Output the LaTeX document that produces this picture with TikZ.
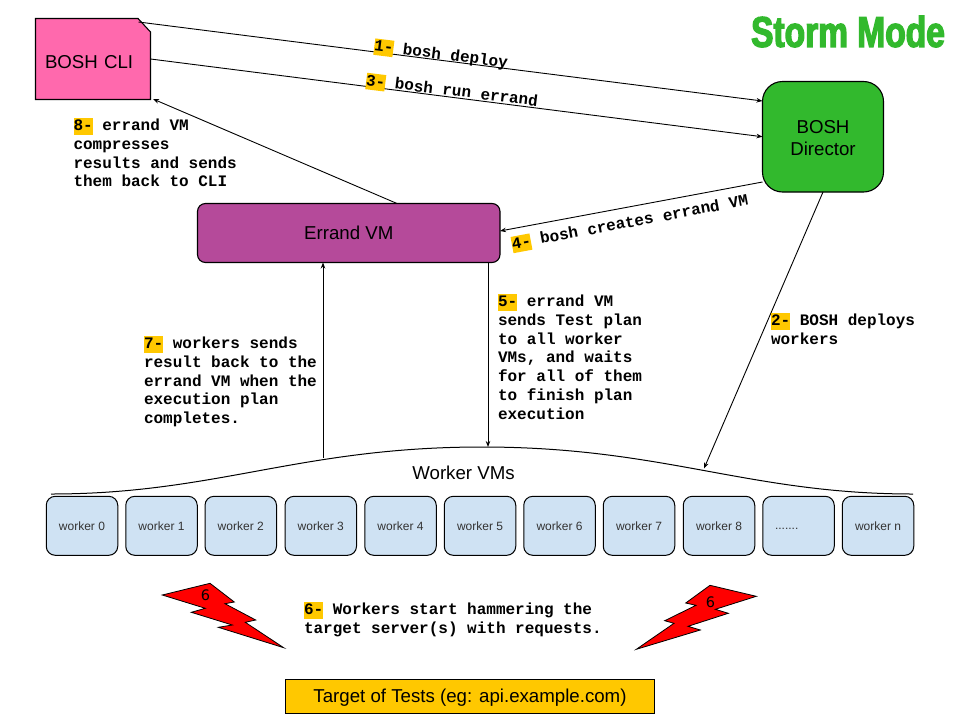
\documentclass[tikz,border=0pt]{standalone}
\usepackage{fontspec}
\setmainfont{Liberation Sans}
\newfontfamily\monob{Liberation Mono}[BoldFont=* Bold]
\newfontfamily\titlef{Liberation Sans Bold}[FakeStretch=0.78,FakeBold=3]
\newfontfamily\sixf{DejaVu Sans}
\usetikzlibrary{arrows.meta,backgrounds}
\definecolor{hlc}{HTML}{FFC800}
\definecolor{dirgreen}{HTML}{32B92D}
\definecolor{clipink}{HTML}{FF69AD}
\definecolor{errpurple}{HTML}{B54A9A}
\definecolor{workerblue}{HTML}{CFE2F3}
\definecolor{workertext}{HTML}{333333}
\newcommand{\hlbox}[1]{{\setlength{\fboxsep}{0pt}\colorbox{hlc}{\vrule height 12.5pt depth 4pt width 0pt #1}}}
\tikzset{
  every node/.style={inner sep=0pt,outer sep=0pt},
  big/.style={font=\fontsize{18.67}{22}\selectfont},
  box/.style={draw=black,line width=1.1pt,big,align=center},
  workerbox/.style={draw=black,line width=1pt,fill=workerblue,rounded corners=9pt,minimum width=71.5pt,minimum height=59pt,font=\fontsize{12}{14}\selectfont,text=workertext},
  arr/.style={draw=black,line width=0.9pt,-{Stealth[length=6pt,width=4.5pt]}},
  lbl/.style={font=\fontsize{16}{18.8}\selectfont\monob\bfseries,align=left,anchor=north west},
  tag/.style={font=\fontsize{16}{18.8}\selectfont\monob\bfseries},
  bolt/.style={draw=black,line width=0.8pt,fill=red,line join=miter},
  six/.style={font=\fontsize{14.5}{16}\selectfont\sixf}
}
\begin{document}
\begin{tikzpicture}[x=1pt,y=-1pt]
\useasboundingbox (0,0) rectangle (960,720);
% title
\node[text=dirgreen,font=\fontsize{43}{48}\selectfont\titlef] (title) at (848,31.5) {Storm Mode};
% main boxes
\node[big,minimum width=115pt,minimum height=81pt,text width=96pt,align=left] (cli) at (93,59) {\raisebox{-2.5pt}[13.4pt][0.2pt]{BOSH CLI}};
\begin{scope}[on background layer]
\draw[draw=black,line width=1.1pt,fill=clipink] (cli.north west) -- ([xshift=-12.5pt]cli.north east) -- ([yshift=-13.5pt]cli.north east) -- (cli.south east) -- (cli.south west) -- cycle;
\end{scope}
\node[box,fill=dirgreen,rounded corners=20pt,minimum width=121pt,minimum height=110.5pt] (dir) at (823,136.75) {\raisebox{-1pt}[13.4pt][0.2pt]{BOSH}\\\raisebox{-1pt}[13.4pt][0.2pt]{Director}};
\node[box,fill=errpurple,rounded corners=8pt,minimum width=302.5pt,minimum height=59pt] (err) at (348.75,233) {Errand VM};
% workers
\node[workerbox] (w0) at (82,525.8) {worker 0};
\node[workerbox] (w1) at (161.5,525.8) {worker 1};
\node[workerbox] (w2) at (240.75,525.8) {worker 2};
\node[workerbox] (w3) at (320.75,525.8) {worker 3};
\node[workerbox] (w4) at (400.5,525.8) {worker 4};
\node[workerbox] (w5) at (480,525.8) {worker 5};
\node[workerbox] (w6) at (559.5,525.8) {worker 6};
\node[workerbox] (w7) at (639,525.8) {worker 7};
\node[workerbox] (w8) at (719,525.8) {worker 8};
\node[workerbox,text width=47pt,align=left] (wd) at (798.5,525.8) {\vphantom{0}.......};
\node[workerbox] (wn) at (878,525.8) {worker n};
% brace
\coordinate (braceL) at (323,458);
\coordinate (braceM) at (488,447);
\coordinate (braceR) at (704,468.5);
\draw[line width=1pt] (51,494) .. controls (216,494) and (300,447) .. (482,447) .. controls (664,447) and (748,494) .. (913,494);
\node[big] (wvm) at (463.5,473) {Worker VMs};
% connectors
\draw[arr] ([shift={(-12pt,-3.5pt)}]cli.north east) -- ([yshift=-19.5pt]dir.north west);
\draw[arr] (cli.east) -- (dir.west);
\draw[arr] ([xshift=48.25pt]err.north) -- ([shift={(2.5pt,0.5pt)}]cli.south east);
\draw[arr] ([yshift=10pt]dir.south west) -- ([yshift=2pt]err.east);
\draw[arr] ([xshift=139.25pt]err.south) -- (braceM);
\draw[arr] (braceL) -- ([xshift=-25.75pt]err.south);
\draw[arr] (dir.south) -- (braceR);
% connector labels
\node[tag,rotate=-7.2] (l1) at (441,55) {\hlbox{1-} bosh deploy};
\node[tag,rotate=-7] (l3) at (452,91.5) {\hlbox{3-} bosh run errand};
\node[tag,rotate=10.6] (l4) at (630,223) {\hlbox{4-} bosh creates errand VM};
\node[lbl] (l8) at (73.5,118) {\hlbox{8-} errand VM\\compresses\\results and sends\\them back to CLI};
\node[lbl] (l7) at (144,336) {\hlbox{7-} workers sends\\result back to the\\errand VM when the\\execution plan\\completes.};
\node[lbl] (l5) at (498,294) {\hlbox{5-} errand VM\\sends Test plan\\to all worker\\VMs, and waits\\for all of them\\to finish plan\\execution};
\node[lbl] (l2) at (771,313) {\hlbox{2-} BOSH deploys\\workers};
\node[lbl] (l6) at (304,602) {\hlbox{6-} Workers start hammering the\\target server(s) with requests.};
% bolts
\draw[bolt] (162.3,595) -- (210,583.3) -- (234.3,602) -- (225,603.7) -- (255.7,620) -- (245.3,622.3) -- (283.7,647.7) -- (218.3,627.3) -- (232.3,625) -- (191.3,612.3) -- (205.3,608.3) -- cycle;
\node[six] (s1) at (205.5,595.5) {6};
\draw[bolt] (756.3,596.3) -- (710,585.3) -- (685.7,603) -- (696,605.3) -- (664.7,620.7) -- (674,623.3) -- (636.3,649.3) -- (700.3,630) -- (688,626.3) -- (728.3,613.3) -- (715.3,609.3) -- cycle;
\node[six] (s2) at (710.5,602) {6};
% target
\node[box,fill=hlc,minimum width=369pt,minimum height=34pt] (target) at (470,696.5) {\raisebox{-1.5pt}[13.4pt][3.9pt]{Target of Tests (eg: api.example.com)}};
\end{tikzpicture}
\end{document}
